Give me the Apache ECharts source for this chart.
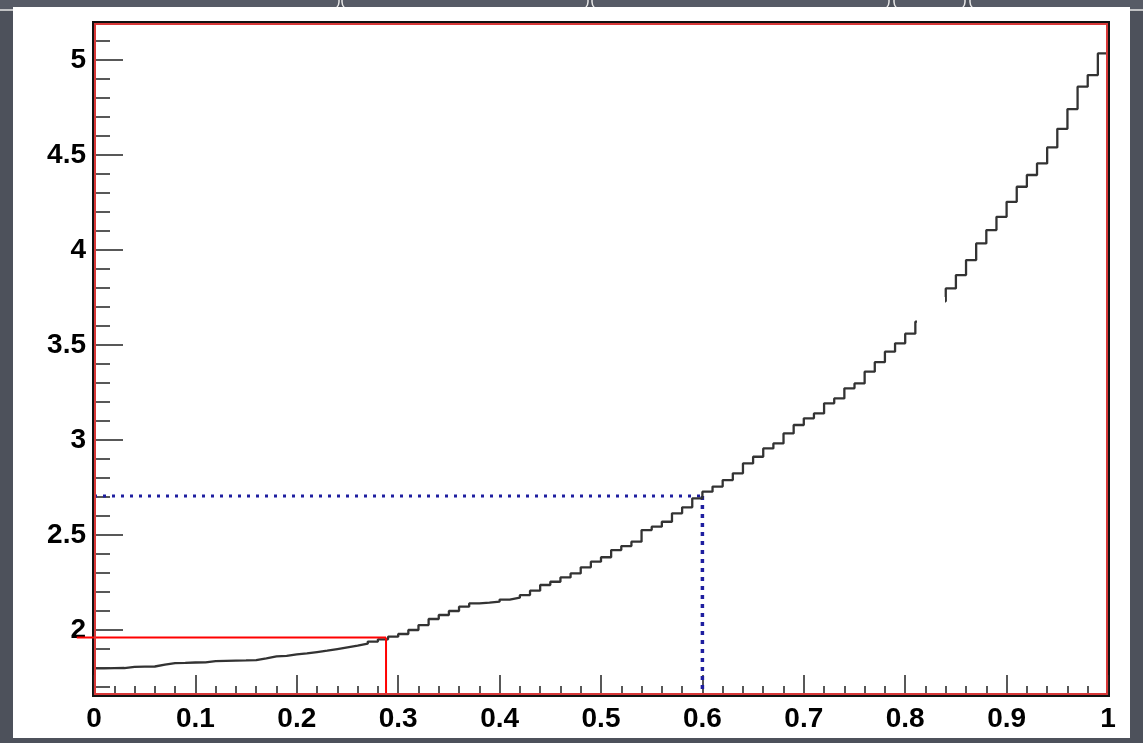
<!DOCTYPE html>
<html>
<head>
<meta charset="utf-8">
<title>Histogram</title>
<script src="https://cdn.jsdelivr.net/npm/echarts@6.0.0/dist/echarts.min.js"></script>
<style>
  html, body { margin: 0; padding: 0; background: #4d515b; }
  #chart { width: 1143px; height: 743px; }
</style>
</head>
<body>
<div id="chart"></div>
<script>
// histogram, 100 bins over [0, 1]
const xMin = 0;
const xMax = 1;
const nBins = 100;
const binValues = [
  1.798, 1.799, 1.800, 1.806, 1.807, 1.808, 1.818, 1.826, 1.827, 1.829,
  1.830, 1.836, 1.838, 1.839, 1.840, 1.842, 1.851, 1.861, 1.864, 1.872,
  1.877, 1.884, 1.891, 1.900, 1.909, 1.918, 1.928, 1.939, 1.951, 1.965,
  1.979, 2.000, 2.026, 2.058, 2.079, 2.100, 2.123, 2.140, 2.144, 2.149,
  2.160, 2.170, 2.184, 2.207, 2.237, 2.254, 2.277, 2.298, 2.330, 2.360,
  2.383, 2.421, 2.442, 2.465, 2.526, 2.544, 2.570, 2.614, 2.646, 2.693,
  2.728, 2.755, 2.789, 2.825, 2.877, 2.912, 2.956, 2.982, 3.035, 3.079,
  3.114, 3.140, 3.193, 3.219, 3.272, 3.298, 3.360, 3.410, 3.465, 3.509,
  3.560, 3.623, 3.675, 3.730, 3.798, 3.868, 3.947, 4.035, 4.105, 4.175,
  4.254, 4.333, 4.395, 4.456, 4.540, 4.638, 4.742, 4.860, 4.921, 5.035
];

// axis ranges and ticks
const yMin = 1.658;
const yMax = 5.195;
const xTickStep = 0.1;
const yLabelValues = [2, 2.5, 3, 3.5, 4, 4.5, 5];
const yMinorValues = [1.7, 1.8, 1.9, 2.0, 2.1, 2.2, 2.3, 2.4, 2.5, 2.6, 2.7, 2.8, 2.9,
  3.0, 3.1, 3.2, 3.3, 3.4, 3.5, 3.6, 3.7, 3.8, 3.9, 4.0, 4.1, 4.2, 4.3, 4.4, 4.5,
  4.6, 4.7, 4.8, 4.9, 5.0, 5.1];

// guide lines (corner points)
const redCut = [[-0.017, 1.96], [0.288, 1.96], [0.288, yMin]];
const blueHoriz = [[0, 2.705], [0.6, 2.705]];
const blueVert = [[0.6, 2.705], [0.6, yMin]];

// step points at the bin edges
const histData = [];
for (let i = 0; i < nBins; i++) {
  histData.push([xMin + (xMax - xMin) * i / nBins, binValues[i]]);
}
histData.push([xMax, binValues[nBins - 1]]);

// red cut line as segments, so it can run past the frame
const redSegments = [];
for (let i = 0; i < redCut.length - 1; i++) {
  redSegments.push([redCut[i][0], redCut[i][1], redCut[i + 1][0], redCut[i + 1][1]]);
}

// plot frame in pixels
const gLeft = 94, gTop = 23, gRight = 1108, gBottom = 695;

const labelFont = {
  color: '#000',
  fontFamily: '"Liberation Sans", Arial, Helvetica, sans-serif',
  fontWeight: 'bold',
  fontSize: 28
};

const tabStyle = { fill: '#575b66', stroke: '#e8e8e8', lineWidth: 1.5 };

const chart = echarts.init(document.getElementById('chart'));

const option = {
  backgroundColor: '#4d515b',
  animation: false,
  graphic: [
    // slide tabs at the top
    { type: 'rect', z: -10, shape: { x: -10, y: -30, width: 349, height: 40, r: 8 }, style: tabStyle },
    { type: 'rect', z: -10, shape: { x: 342, y: -30, width: 246, height: 40, r: 8 }, style: tabStyle },
    { type: 'rect', z: -10, shape: { x: 592, y: -30, width: 297, height: 40, r: 8 }, style: tabStyle },
    { type: 'rect', z: -10, shape: { x: 894, y: -30, width: 71, height: 40, r: 8 }, style: tabStyle },
    { type: 'rect', z: -10, shape: { x: 970, y: -30, width: 190, height: 40, r: 8 }, style: tabStyle },
    // white slide panel
    { type: 'rect', z: -5, shape: { x: 13, y: 7, width: 1117, height: 731 }, style: { fill: '#ffffff' } },
    // red inner frame
    { type: 'rect', z: 50, shape: { x: gLeft + 1, y: gTop + 1, width: gRight - gLeft - 2, height: gBottom - gTop - 2 }, style: { fill: 'none', stroke: '#d83838', lineWidth: 2 } },
    // white blot from the slide that hides part of the curve
    { type: 'rect', z: 40, shape: { x: 917, y: 297, width: 28, height: 36 }, style: { fill: '#ffffff' } }
  ],
  grid: {
    left: gLeft,
    top: gTop,
    right: 1143 - gRight,
    bottom: 743 - gBottom,
    containLabel: false,
    outerBoundsMode: 'none',
    show: true,
    backgroundColor: '#fff',
    borderColor: '#111',
    borderWidth: 4
  },
  xAxis: {
    type: 'value',
    min: xMin,
    max: xMax,
    interval: xTickStep,
    axisLine: { show: false },
    axisTick: { show: true, inside: true, length: 20, lineStyle: { color: '#222', width: 1.5 } },
    minorTick: { show: true, splitNumber: 5, length: 9, lineStyle: { color: '#222', width: 1.5 } },
    splitLine: { show: false },
    axisLabel: Object.assign({ margin: 10 }, labelFont)
  },
  yAxis: [
    {
      type: 'value',
      position: 'left',
      min: yMin,
      max: yMax,
      axisLine: { show: false },
      axisTick: { show: true, inside: true, length: 29, customValues: yLabelValues, lineStyle: { color: '#222', width: 1.5 } },
      splitLine: { show: false },
      axisLabel: Object.assign({ margin: 8, customValues: yLabelValues }, labelFont)
    },
    {
      // minor ticks every 0.1
      type: 'value',
      position: 'left',
      min: yMin,
      max: yMax,
      axisLine: { show: false },
      axisTick: { show: true, inside: true, length: 16, customValues: yMinorValues, lineStyle: { color: '#222', width: 1.5 } },
      splitLine: { show: false },
      axisLabel: { show: false }
    }
  ],
  series: [
    {
      name: 'hist',
      type: 'line',
      step: 'end',
      data: histData,
      showSymbol: false,
      lineStyle: { color: '#333', width: 2.3 },
      z: 3
    },
    {
      name: 'cut',
      type: 'custom',
      clip: false,
      data: redSegments,
      encode: { x: [0, 2], y: [1, 3] },
      renderItem: function (params, api) {
        const p1 = api.coord([api.value(0), api.value(1)]);
        const p2 = api.coord([api.value(2), api.value(3)]);
        return {
          type: 'line',
          shape: { x1: p1[0], y1: p1[1], x2: p2[0], y2: p2[1] },
          style: { stroke: '#ff0000', lineWidth: 2 }
        };
      },
      z: 4
    },
    {
      name: 'blueH',
      type: 'line',
      data: blueHoriz,
      showSymbol: false,
      lineStyle: { color: '#1e1ea0', width: 3, type: [3, 6] },
      z: 2
    },
    {
      name: 'blueV',
      type: 'line',
      data: blueVert,
      showSymbol: false,
      lineStyle: { color: '#1e1ea0', width: 3.5, type: [4, 5] },
      z: 2
    }
  ]
};

chart.setOption(option);
</script>
</body>
</html>
